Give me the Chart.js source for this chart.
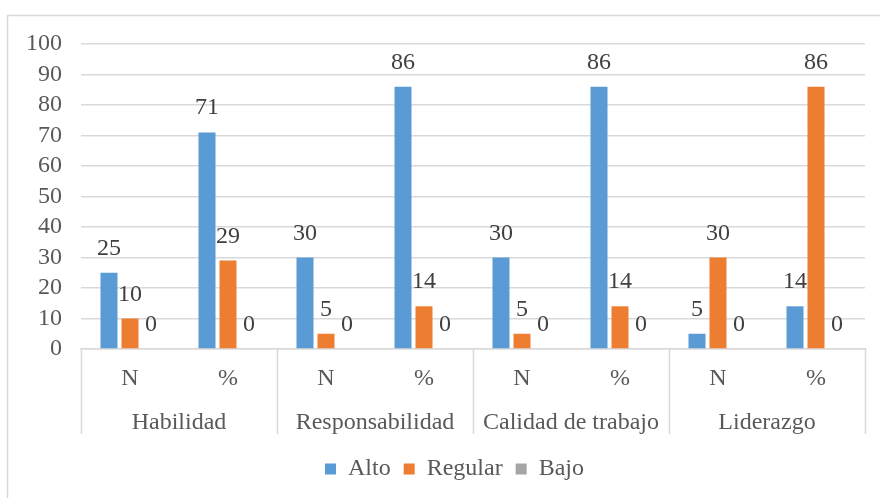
<!DOCTYPE html>
<html>
<head>
<meta charset="utf-8">
<script src="https://cdn.jsdelivr.net/npm/chart.js@4"></script>
<style>
html,body{margin:0;padding:0;background:#fff;}
#wrap{position:relative;width:880px;height:498px;}
</style>
</head>
<body>
<div id="wrap"><canvas id="c" width="880" height="498"></canvas></div>
<script>
const categories = ['N', '%', 'N', '%', 'N', '%', 'N', '%'];
const groups = ['Habilidad', 'Responsabilidad', 'Calidad de trabajo', 'Liderazgo'];
const alto = [25, 71, 30, 86, 30, 86, 5, 14];
const regular = [10, 29, 5, 14, 5, 14, 30, 86];
const bajo = [0, 0, 0, 0, 0, 0, 0, 0];
const yTicks = [0, 10, 20, 30, 40, 50, 60, 70, 80, 90, 100];

const FONT = 'Liberation Serif';
const FS = 24;
const GRID = '#d9d9d9';

const frame = {
  id: 'frame',
  beforeDraw(chart) {
    const ctx = chart.ctx;
    ctx.save();
    ctx.strokeStyle = GRID;
    ctx.lineWidth = 1.5;
    ctx.beginPath();
    ctx.moveTo(7.5, 500);
    ctx.lineTo(7.5, 15.5);
    ctx.lineTo(882, 15.5);
    ctx.stroke();
    ctx.restore();
  }
};

const legendShift = {
  id: 'legendShift',
  afterLayout(chart) {
    if (chart.legend) {
      chart.legend.left += 22;
      chart.legend.right += 22;
    }
  }
};

const groupAxis = {
  id: 'groupAxis',
  afterDraw(chart) {
    const ctx = chart.ctx;
    const x = chart.scales.x;
    const area = chart.chartArea;
    const n = groups.length;
    const per = categories.length / n;
    ctx.save();
    ctx.strokeStyle = GRID;
    ctx.lineWidth = 1.5;
    const step = (x.right - x.left) / categories.length;
    for (let g = 0; g <= n; g++) {
      const px = Math.round(x.getPixelForValue(g * per) - step / 2) + 0.5;
      ctx.beginPath();
      ctx.moveTo(px, area.bottom);
      ctx.lineTo(px, area.bottom + 85);
      ctx.stroke();
    }
    ctx.fillStyle = '#595959';
    ctx.font = FS + 'px "' + FONT + '"';
    ctx.textAlign = 'center';
    ctx.textBaseline = 'alphabetic';
    for (let g = 0; g < n; g++) {
      const c = (x.getPixelForValue(g * per) + x.getPixelForValue(g * per + per - 1)) / 2;
      ctx.fillText(groups[g], c, area.bottom + 80);
    }
    ctx.restore();
  }
};

const dataLabels = {
  id: 'dataLabels',
  afterDatasetsDraw(chart) {
    const ctx = chart.ctx;
    ctx.save();
    ctx.fillStyle = '#404040';
    ctx.font = FS + 'px "' + FONT + '"';
    ctx.textAlign = 'center';
    ctx.textBaseline = 'alphabetic';
    chart.data.datasets.forEach((ds, i) => {
      const meta = chart.getDatasetMeta(i);
      meta.data.forEach((bar, j) => {
        ctx.fillText(String(ds.data[j]), bar.x, bar.y - 18);
      });
    });
    ctx.restore();
  }
};

new Chart(document.getElementById('c'), {
  type: 'bar',
  data: {
    labels: categories,
    datasets: [
      { label: 'Alto', data: alto, backgroundColor: '#5B9BD5' },
      { label: 'Regular', data: regular, backgroundColor: '#ED7D31' },
      { label: 'Bajo', data: bajo, backgroundColor: '#A5A5A5' }
    ]
  },
  options: {
    responsive: false,
    animation: false,
    devicePixelRatio: 1,
    categoryPercentage: 0.643,
    barPercentage: 0.81,
    layout: { padding: { top: 44, left: 0, right: 15, bottom: 7 } },
    plugins: {
      legend: {
        position: 'bottom',
        labels: {
          font: { family: FONT, size: FS },
          color: '#595959',
          boxWidth: 11,
          boxHeight: 11,
          padding: 13
        }
      },
      tooltip: { enabled: false }
    },
    scales: {
      x: {
        grid: { display: false, drawTicks: false },
        border: { color: GRID, width: 1.5 },
        ticks: { font: { family: FONT, size: FS }, color: '#595959', padding: 15, maxRotation: 0, autoSkip: false },
        afterFit(s) { s.height = 95; }
      },
      y: {
        min: 0, max: 100,
        afterBuildTicks(s) { s.ticks = yTicks.map(v => ({ value: v })); },
        grid: { color: GRID, lineWidth: 1.5, drawTicks: false },
        border: { display: false },
        ticks: { font: { family: FONT, size: FS }, color: '#595959', padding: 19, autoSkip: false },
        afterFit(s) { s.width = 81; }
      }
    }
  },
  plugins: [frame, legendShift, groupAxis, dataLabels]
});
</script>
</body>
</html>
